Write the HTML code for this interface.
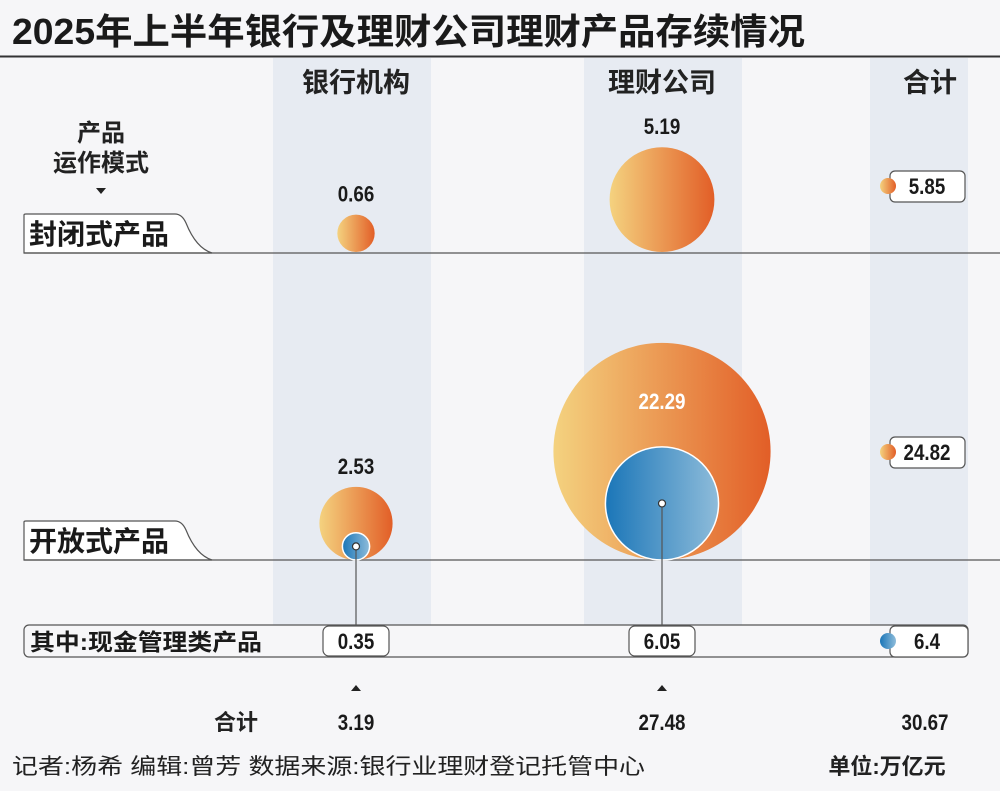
<!DOCTYPE html>
<html><head><meta charset="utf-8"><style>
body{margin:0;width:1000px;height:791px;overflow:hidden;background:#f6f6f8;font-family:"Liberation Sans","Noto Sans CJK SC",sans-serif;}
svg{display:block}
.num{font-family:"Liberation Sans",sans-serif;font-weight:bold;}
.cjk{font-family:"Liberation Sans","Noto Sans CJK SC",sans-serif;font-weight:bold;}
</style></head><body>
<svg id="chart" width="1000" height="791">
<defs>
<linearGradient id="og" x1="0" x2="1" y1="0" y2="0"><stop offset="0" stop-color="#f4d27f"/><stop offset="1" stop-color="#e25e27"/></linearGradient>
<linearGradient id="bg" x1="0" x2="1" y1="0" y2="0"><stop offset="0" stop-color="#1b76b8"/><stop offset="1" stop-color="#8ebcda"/></linearGradient>
</defs>
<text x="12" y="44" class="cjk" font-size="36" fill="#1a1a1a" textLength="793" lengthAdjust="spacingAndGlyphs">2025年上半年银行及理财公司理财产品存续情况</text>
<line x1="0" y1="56.5" x2="1000" y2="56.5" stroke="#333" stroke-width="2"/>
<rect x="273" y="58" width="158" height="567" fill="#e7ebf2"/>
<rect x="584" y="58" width="158" height="567" fill="#e7ebf2"/>
<rect x="870" y="58" width="98" height="567" fill="#e7ebf2"/>
<text x="356" y="92" text-anchor="middle" class="cjk" font-size="27" fill="#222">银行机构</text>
<text x="662" y="92" text-anchor="middle" class="cjk" font-size="27" fill="#222">理财公司</text>
<text x="930" y="92" text-anchor="middle" class="cjk" font-size="27" fill="#222">合计</text>
<text x="101" y="141" text-anchor="middle" class="cjk" font-size="24" fill="#222">产品</text>
<text x="101" y="171" text-anchor="middle" class="cjk" font-size="24" fill="#222">运作模式</text>
<path d="M96 188 L106 188 L101 194Z" fill="#222"/>
<g id="rows"></g>
<g id="marks"></g>
<text x="236" y="730" text-anchor="middle" class="cjk" font-size="22" fill="#222">合计</text>
<text x="12" y="774" font-size="22" fill="#222" textLength="633" lengthAdjust="spacingAndGlyphs" style='font-family:"Liberation Sans","Noto Sans CJK SC",sans-serif'>记者:杨希  编辑:曾芳  数据来源:银行业理财登记托管中心</text>
<text x="887" y="774" text-anchor="middle" class="cjk" font-size="22" fill="#222">单位:万亿元</text>
</svg>
<script>
const groups = ['银行机构','理财公司'];
const closedVals = [0.66, 5.19];
const openVals = [2.53, 22.29];
const cashVals = [0.35, 6.05];
const closedTotal = 5.85, openTotal = 24.82, cashTotal = 6.4;
const sumVals = [3.19, 27.48];
const grandTotal = 30.67;

const NS='http://www.w3.org/2000/svg';
const cx = i => [356, 662][i];
const r = v => 23 * Math.sqrt(v);
const marks = document.getElementById('marks');
const rows = document.getElementById('rows');
function mk(tag, attrs, parent, text){
  const e=document.createElementNS(NS,tag);
  for(const k in attrs) e.setAttribute(k,attrs[k]);
  if(text!==undefined) e.textContent=text;
  (parent||marks).appendChild(e); return e;
}
function fmt(v){return String(v);}
function rowTab(y, label, name){
  const g=mk('g',{},rows);
  
  
  mk('path',{d:`M24 ${y} L24 ${y-38} Q24 ${y-39} 26 ${y-39} L175 ${y-39} Q182 ${y-39} 186 ${y-30} Q196 ${y-5} 212 ${y} Z`,fill:'#fff',stroke:'#555','stroke-width':1.2},g);
  mk('line',{x1:24,y1:y,x2:1000,y2:y,stroke:'#555','stroke-width':1.2},g);
  mk('text',{x:29,y:y-9,'font-size':28,'class':'cjk',fill:'#1a1a1a'},g,label);
}
rowTab(253,'封闭式产品','closed-row-label');
rowTab(560,'开放式产品','open-row-label');
const cashRow=mk('rect',{x:24,y:625,width:944,height:32,rx:5,fill:'#f6f6f8',stroke:'#555','stroke-width':1.2},rows);


const cl=mk('text',{x:30,y:650,'font-size':23,'class':'cjk',fill:'#1a1a1a',textLength:232,lengthAdjust:'spacingAndGlyphs'},rows,'其中:现金管理类产品');



function valLabel(x,y,v,name,color){
  const s=fmt(v);
  let w=0; for(const ch of s) w += (ch==='.'?5:10.5);
  const t=mk('text',{x:x,y:y,'text-anchor':'middle','font-size':22,'class':'num',fill:color||'#1a1a1a',textLength:w,lengthAdjust:'spacingAndGlyphs'},marks,s);
  
  
}
groups.forEach((g,i)=>{
  const rc=r(closedVals[i]);
  const c=mk('circle',{cx:cx(i),cy:252-rc,r:rc,fill:'url(#og)'});
  
  
  valLabel(cx(i),252-2*rc-13,closedVals[i],'closed-value-'+i);
  const ro=r(openVals[i]);
  const o=mk('circle',{cx:cx(i),cy:560-ro,r:ro,fill:'url(#og)'});
  
  
  const rb=r(cashVals[i]);
  const yb=560-rb;
  if(ro>80) valLabel(cx(i),560-2*ro+66,openVals[i],'open-value-'+i,'#fff');
  else valLabel(cx(i),560-2*ro-13,openVals[i],'open-value-'+i);
  const b=mk('circle',{cx:cx(i),cy:yb,r:rb,fill:'url(#bg)',stroke:'#fff','stroke-width':1.5});
  
  
  const l=mk('line',{x1:cx(i),y1:yb,x2:cx(i),y2:626,stroke:'#555','stroke-width':1.2});
  
  
  mk('circle',{cx:cx(i),cy:yb,r:3.5,fill:'#fff',stroke:'#333','stroke-width':1.2});
  const bx=mk('rect',{x:cx(i)-33,y:626,width:66,height:30,rx:6,fill:'#fff',stroke:'#555','stroke-width':1.2});
  
  
  valLabel(cx(i),649,cashVals[i],'cash-value-'+i);
  const a=mk('path',{d:`M${cx(i)-5} 691 L${cx(i)+5} 691 L${cx(i)} 685Z`,fill:'#222'});
  
  
  valLabel(cx(i),730,sumVals[i],'sum-value-'+i);
});
function totBox(y,v,name,fill,w){
  const bx=mk('rect',{x:890,y:y-15,width:w||75,height:31,rx:5,fill:'#fff',stroke:'#555','stroke-width':1.2});
  
  
  const d=mk('circle',{cx:888,cy:y,r:8,fill:fill});
  
  
  valLabel(927,y+8,v,name);
}
totBox(186,closedTotal,'closed-total','url(#og)');
totBox(452,openTotal,'open-total','url(#og)');
totBox(641,cashTotal,'cash-total','url(#bg)',78);
valLabel(925,730,grandTotal,'grand-total');
</script>
</body></html>
